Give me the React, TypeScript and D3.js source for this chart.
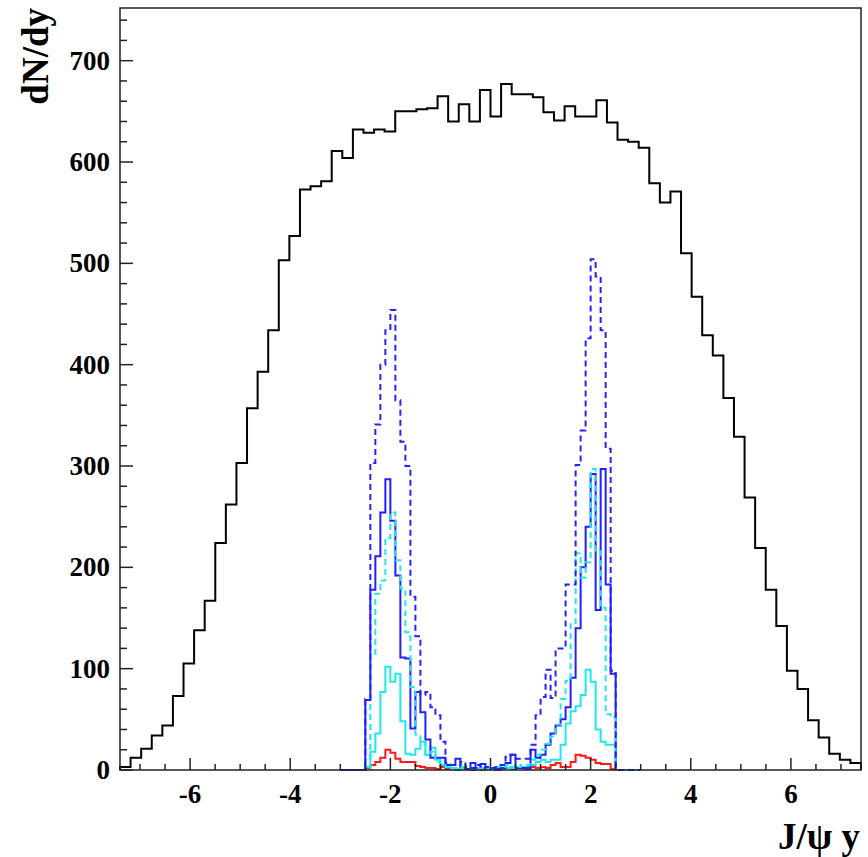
import React from "react";
import * as d3 from "d3";

// ---- data ----
// black histogram: 70 bins over [-7.4, 7.4]
const allMin = -7.4;
const allMax = 7.4;
const allCounts = [
  3, 12, 21, 34, 44, 73, 105, 138, 167, 224, 262, 303, 357, 393, 434, 503, 527, 573, 576, 581,
  611, 604, 632, 629, 632, 630, 650, 650, 652, 653, 665, 640, 657, 640, 671,
  645, 677, 667, 667, 664, 649, 641, 655, 645, 645, 661, 639, 622, 620, 614, 579, 560, 571, 510,
  467, 429, 409, 367, 329, 269, 219, 178, 142, 98, 80, 49, 32, 16, 10, 7,
];

// coloured histograms: bins of 0.1 starting at -3.0
const subMin = -3.0;
const subWidth = 0.1;
const blueDashed = [
  0, 0, 0, 0, 0,
  70, 303, 341, 400, 434, 454, 365, 324, 300, 171, 132, 74, 77, 62, 54, 28, 7, 5, 5, 8, 3, 2, 5, 2, 3,
  2, 3, 5, 13, 15, 11, 11, 11, 25, 54, 72, 99, 71, 120, 120, 183, 183, 301, 335, 426, 504, 487, 434, 317, 98,
  0, 0, 0, 0, 0,
];
const cyanDashed = [
  0, 0, 0, 0, 0,
  0, 115, 174, 187, 229, 254, 207, 179, 136, 82, 35, 28, 15, 18, 8, 5, 3, 2, 2, 3, 2, 1, 2, 1, 2,
  2, 3, 3, 5, 2, 3, 5, 5, 10, 15, 20, 26, 33, 45, 70, 88, 145, 214, 190, 205, 297, 216, 160, 55, 52,
  0, 0, 0, 0, 0,
];
const blueSolid = [
  0, 0, 0, 0, 0,
  69, 178, 211, 254, 287, 246, 192, 111, 110, 41, 77, 57, 30, 12, 12, 12, 5, 5, 11, 3, 1, 7, 2, 6, 2,
  2, 1, 2, 7, 15, 2, 2, 2, 20, 12, 15, 25, 36, 44, 50, 62, 91, 140, 200, 240, 292, 158, 297, 183, 95,
];
const cyanSolid = [
  0, 0, 0, 0, 0,
  3, 18, 36, 77, 102, 87, 95, 48, 16, 15, 21, 28, 15, 22, 10, 5, 3, 2, 1, 2, 1, 2, 1, 2, 1,
  1, 2, 1, 2, 3, 2, 3, 3, 5, 8, 10, 8, 10, 10, 25, 46, 58, 63, 74, 99, 87, 40, 28, 25, 25,
];
const redSolid = [
  0, 0, 0, 0, 0,
  2, 5, 8, 12, 20, 17, 11, 8, 8, 8, 4, 3, 2, 2, 1, 3, 1, 2, 0, 2, 1, 0, 1, 0, 1,
  1, 0, 1, 2, 1, 2, 2, 1, 3, 2, 3, 2, 5, 7, 3, 3, 8, 15, 14, 12, 10, 7, 6, 6, 1,
];

const yMajorTicks = [0, 100, 200, 300, 400, 500, 600, 700];
const xMajorTicks = [-6, -4, -2, 0, 2, 4, 6];
const xTitle = "J/\u03c8 y";
const yTitle = "dN/dy";

// ---- layout ----
const W = 868;
const H = 857;
const L = 120, R = 861, T = 8, B = 770;
const FONT = "'Liberation Serif', 'Times New Roman', serif";

const x = d3.scaleLinear().domain([allMin, allMax]).range([L, R]);
const y = d3.scaleLinear().domain([0, 752]).range([B, T]);

function stepPath(lo: number, width: number, counts: number[]): string {
  const pts: [number, number][] = [];
  pts.push([lo, 0]);
  counts.forEach((c, i) => {
    pts.push([lo + i * width, c]);
    pts.push([lo + (i + 1) * width, c]);
  });
  pts.push([lo + counts.length * width, 0]);
  const line = d3
    .line<[number, number]>()
    .x((d) => x(d[0]))
    .y((d) => y(d[1]));
  return line(pts) || "";
}

export default function App() {
  const allWidth = (allMax - allMin) / allCounts.length;
  const yMinor = d3.range(0, 752, 20).filter((v) => v % 100 !== 0);
  const xMinor = d3.range(-7, 7.01, 0.5).filter((v) => Math.abs(v % 2) > 1e-9);

  const series = [
    { data: redSolid, color: "#ff1a1a", dash: undefined },
    { data: cyanSolid, color: "#1ee8e8", dash: undefined },
    { data: blueSolid, color: "#1f1fff", dash: undefined },
    { data: cyanDashed, color: "#1ee8e8", dash: "6,4" },
    { data: blueDashed, color: "#2323ff", dash: "6,4" },
  ];

  return (
    <svg width={W} height={H} style={{ display: "block", position: "absolute", left: 0, top: 0, background: "#fff" }}>
      <rect x={0} y={0} width={W} height={H} fill="#fff" />
      {/* histograms */}
      <path d={stepPath(allMin, allWidth, allCounts)} fill="none" stroke="#000" strokeWidth={2} />
      {series.map((s, i) => (
        <path
          key={i}
          d={stepPath(subMin, subWidth, s.data)}
          fill="none"
          stroke={s.color}
          strokeWidth={2}
          strokeDasharray={s.dash}
        />
      ))}
      {/* frame */}
      <rect x={L} y={T} width={R - L} height={B - T} fill="none" stroke="#222" strokeWidth={1.5} />
      {/* y ticks */}
      {yMajorTicks.map((v) => (
        <line key={"ym" + v} x1={L} x2={L + 13} y1={y(v)} y2={y(v)} stroke="#222" strokeWidth={1.5} />
      ))}
      {yMinor.map((v) => (
        <line key={"yn" + v} x1={L} x2={L + 7} y1={y(v)} y2={y(v)} stroke="#222" strokeWidth={1.5} />
      ))}
      {/* x ticks */}
      {xMajorTicks.map((v) => (
        <line key={"xm" + v} x1={x(v)} x2={x(v)} y1={B} y2={B - 12} stroke="#222" strokeWidth={1.5} />
      ))}
      {xMinor.map((v) => (
        <line key={"xn" + v} x1={x(v)} x2={x(v)} y1={B} y2={B - 6} stroke="#222" strokeWidth={1.5} />
      ))}
      {/* tick labels */}
      {yMajorTicks.map((v) => (
        <text
          key={"yl" + v}
          x={110}
          y={y(v) + 9}
          textAnchor="end"
          fontFamily={FONT}
          fontWeight="bold"
          fontSize={27}
          fill="#000"
        >
          {v}
        </text>
      ))}
      {xMajorTicks.map((v) => (
        <text
          key={"xl" + v}
          x={x(v)}
          y={803}
          textAnchor="middle"
          fontFamily={FONT}
          fontWeight="bold"
          fontSize={27}
          fill="#000"
        >
          {String(v)}
        </text>
      ))}
      {/* axis titles */}
      <text x={860} y={849} textAnchor="end" fontFamily={FONT} fontWeight="bold" fontSize={37} fill="#000">
        {xTitle}
      </text>
      <text
        transform={`translate(48,8) rotate(-90)`}
        textAnchor="end"
        fontFamily={FONT}
        fontWeight="bold"
        fontSize={37}
        fill="#000"
      >
        {yTitle}
      </text>
    </svg>
  );
}
